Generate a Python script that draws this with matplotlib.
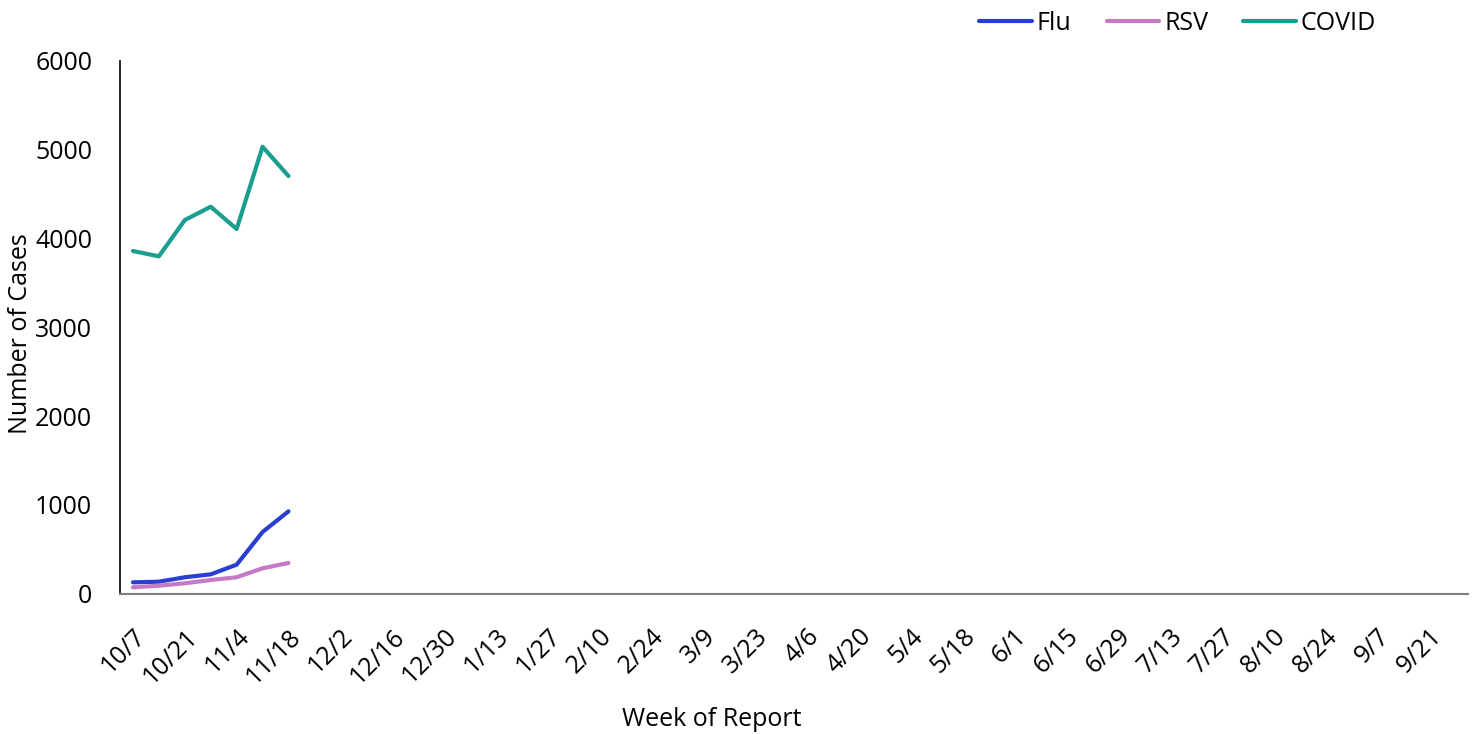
import matplotlib
matplotlib.use("Agg")
import matplotlib.pyplot as plt
from datetime import date, timedelta

plt.rcParams['font.family'] = ['Open Sans', 'DejaVu Sans']

start = date(2023, 10, 7)
weeks = [f"{(start + timedelta(weeks=i)).month}/{(start + timedelta(weeks=i)).day}" for i in range(52)]

flu = [126, 133, 183, 216, 325, 693, 926]
rsv = [70, 88, 115, 152, 183, 284, 344]
covid = [3859, 3799, 4208, 4358, 4107, 5034, 4704]

fig = plt.figure(figsize=(14.74, 7.34), dpi=100)
ax = fig.add_axes([120/1474, (734-593.5)/734, (1468-120)/1474, (593.5-61)/734])

x = list(range(len(flu)))
ax.plot(x, flu, color='#2a3fd0', lw=3, label='Flu', solid_capstyle='round')
ax.plot(x, rsv, color='#c57ac6', lw=3, label='RSV', solid_capstyle='round')
ax.plot(x, covid, color='#1a9e8f', lw=3, label='COVID', solid_capstyle='round')

ax.set_xlim(-0.5, len(weeks) - 0.5)
ax.set_ylim(0, 6000)
ax.set_yticks(range(0, 6001, 1000))
ax.set_xticks(range(0, len(weeks), 2))
ax.set_xticklabels(weeks[::2], rotation=45, ha='right', rotation_mode='anchor')
ax.tick_params(axis='both', length=0, labelsize=18)
ax.tick_params(axis='x', pad=22)
ax.tick_params(axis='y', pad=20)

for s in ['top', 'right']:
    ax.spines[s].set_visible(False)
ax.spines['left'].set_color('black')
ax.spines['left'].set_linewidth(1.2)
ax.spines['bottom'].set_color('#808080')
ax.spines['bottom'].set_linewidth(1.5)

ax.set_xlabel('Week of Report', fontsize=18)
ax.xaxis.set_label_coords((712-120)/1348, -(720-593.5)/532.5)
ax.set_ylabel('Number of Cases', fontsize=18)
ax.yaxis.set_label_coords(-(120-20)/1348, (593.5-334)/532.5)
ax.xaxis.label.set_verticalalignment('center')
ax.yaxis.label.set_verticalalignment('center')

ax.legend(loc='center right', bbox_to_anchor=((1376-120)/1348, (593.5-23)/532.5), ncol=3, frameon=False,
          fontsize=18, handlelength=2.1, columnspacing=1.4, handletextpad=0.2,
          borderaxespad=0, borderpad=0)

fig.savefig('out.png', dpi=100)
